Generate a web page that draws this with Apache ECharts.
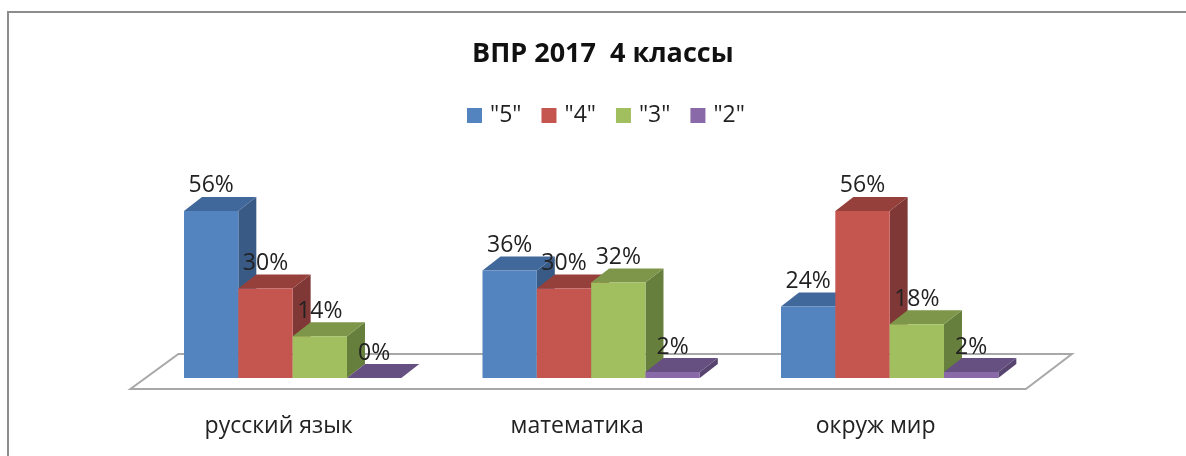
<!DOCTYPE html>
<html>
<head>
<meta charset="utf-8">
<script src="https://cdn.jsdelivr.net/npm/echarts@6/dist/echarts.min.js"></script>
<style>
  html, body { margin: 0; padding: 0; background: #fff; }
  #chart { width: 1186px; height: 456px; }
</style>
</head>
<body>
<div id="chart"></div>
<script>
// ВПР 2017, 4 классы
var categories = ['русский язык', 'математика', 'окруж мир'];
var seriesNames = ['"5"', '"4"', '"3"', '"2"'];
var values5 = [56, 36, 24];
var values4 = [30, 30, 56];
var values3 = [14, 32, 18];
var values2 = [0, 2, 2];

var FONT = '"Open Sans", sans-serif';
var DX = 18, DY = -14; // сдвиг "глубины" столбика
var palette = [
  { front: '#5484bf', top: '#41689a', side: '#385a85' },
  { front: '#c4554f', top: '#96403c', side: '#7f3835' },
  { front: '#a1bf5f', top: '#7e9649', side: '#677f3c' },
  { front: '#8a69a8', top: '#665082', side: '#574570' }
];

var chart = echarts.init(document.getElementById('chart'));

// столбик с верхней и боковой гранью
function barRenderer(idx) {
  return function (params, api) {
    var band = api.size([1, 0])[0];
    var w = band * 0.182;
    var p = api.coord([api.value(0), api.value(1)]);
    var base = api.coord([api.value(0), 0])[1];
    var x = p[0] - 2 * w + idx * w;
    var y = p[1];
    var c = palette[idx];
    return {
      type: 'group',
      children: [
        { type: 'polygon', shape: { points: [[x + w, y], [x + w + DX, y + DY], [x + w + DX, base + DY], [x + w, base]] }, style: { fill: c.side } },
        { type: 'polygon', shape: { points: [[x, y], [x + DX, y + DY], [x + w + DX, y + DY], [x + w, y]] }, style: { fill: c.top } },
        { type: 'rect', shape: { x: x, y: y, width: w, height: base - y }, style: { fill: c.front } },
        {
          type: 'text',
          z2: 100,
          style: {
            text: api.value(1) + '%',
            x: x + w / 2,
            y: y + DY - 11,
            textAlign: 'center',
            textVerticalAlign: 'middle',
            fontFamily: FONT,
            fontSize: 23,
            fill: '#222'
          }
        }
      ]
    };
  };
}

// плоскость основания
function floorRenderer(params, api) {
  var r = params.coordSys;
  var b = r.y + r.height;
  var R = r.x + r.width;
  return {
    type: 'polygon',
    shape: { points: [[r.x - 13, b + 11], [r.x + 35, b - 24], [R + 33, b - 24], [R - 13, b + 11]] },
    style: { fill: '#fff', stroke: '#a8a8a8', lineWidth: 2 }
  };
}

function barSeries(idx, values) {
  return {
    name: seriesNames[idx],
    type: 'custom',
    coordinateSystem: 'cartesian2d',
    renderItem: barRenderer(idx),
    itemStyle: { color: palette[idx].front },
    encode: { x: 0, y: 1 },
    data: categories.map(function (c, i) { return [i, values[i]]; })
  };
}

var option = {
  animation: false,
  backgroundColor: '#fff',
  title: {
    text: 'ВПР 2017  4 классы',
    left: 467,
    top: 36,
    textStyle: { fontFamily: FONT, fontSize: 27, fontWeight: 'bold', color: '#111' }
  },
  legend: {
    data: seriesNames,
    left: 462,
    top: 99,
    itemWidth: 15,
    itemHeight: 15,
    itemGap: 20,
    icon: 'rect',
    textStyle: { fontFamily: FONT, fontSize: 23, color: '#222', padding: [0, 0, 0, 3] }
  },
  grid: { left: 143.4, width: 895.5, top: 199, height: 179 },
  xAxis: {
    type: 'category',
    data: categories,
    axisLine: { show: false },
    axisTick: { show: false },
    axisLabel: {
      margin: 37,
      padding: [0, 28, 0, 0],
      fontFamily: FONT,
      fontSize: 23,
      color: '#222'
    }
  },
  yAxis: { type: 'value', min: 0, max: 60, show: false },
  graphic: [{
    type: 'polyline',
    silent: true,
    shape: { points: [[8, 456], [8, 12], [1186, 12]] },
    style: { fill: null, stroke: '#8c8c8c', lineWidth: 2 }
  }],
  series: [
    {
      type: 'custom',
      coordinateSystem: 'cartesian2d',
      renderItem: floorRenderer,
      silent: true,
      encode: { x: 0, y: 1 },
      data: [[0, 0]]
    },
    barSeries(0, values5),
    barSeries(1, values4),
    barSeries(2, values3),
    barSeries(3, values2)
  ]
};
chart.setOption(option);

window.addEventListener('resize', function () {
  chart.resize();
});
</script>
</body>
</html>
